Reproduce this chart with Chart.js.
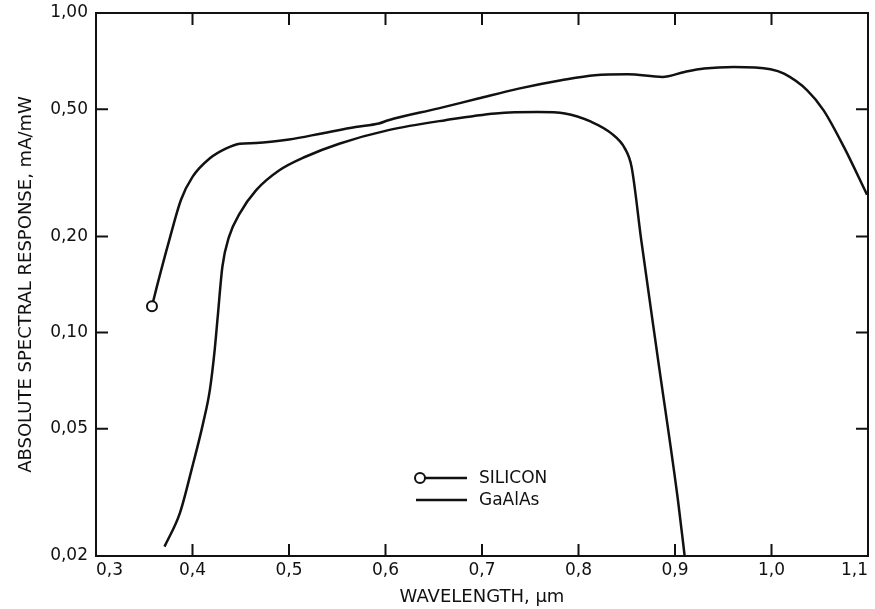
<!DOCTYPE html>
<html>
<head>
<meta charset="utf-8">
<script src="https://cdn.jsdelivr.net/npm/chart.js@4"></script>
<style>
  html, body { margin: 0; padding: 0; background: #fff; }
  canvas { display: block; }
</style>
</head>
<body>
<canvas id="spectralChart" width="875" height="609"></canvas>
<script>
// ---- data ----
const seriesNames = ['SILICON', 'GaAlAs'];

const siliconWavelength = [0.358, 0.363, 0.376, 0.388, 0.400, 0.418, 0.435, 0.449, 0.466, 0.500,
  0.534, 0.569, 0.593, 0.603, 0.655, 0.696, 0.738, 0.782, 0.817, 0.851, 0.887, 0.910, 0.930,
  0.961, 0.999, 1.013, 1.037, 1.054, 1.075, 1.099];
const siliconResponse = [0.121, 0.139, 0.195, 0.260, 0.307, 0.351, 0.377, 0.390, 0.392, 0.402,
  0.420, 0.440, 0.451, 0.462, 0.503, 0.540, 0.580, 0.616, 0.639, 0.643, 0.631, 0.654, 0.670,
  0.678, 0.667, 0.646, 0.573, 0.496, 0.381, 0.270];

const gaalasWavelength = [0.371, 0.387, 0.399, 0.411, 0.418, 0.423, 0.426, 0.431, 0.438, 0.449,
  0.466, 0.490, 0.517, 0.552, 0.603, 0.662, 0.714, 0.758, 0.786, 0.813, 0.834, 0.848, 0.855,
  0.865, 0.882, 0.903, 0.910];
const gaalasResponse = [0.0214, 0.0273, 0.0372, 0.0521, 0.0662, 0.0883, 0.111, 0.161, 0.200, 0.236,
  0.279, 0.322, 0.355, 0.390, 0.430, 0.462, 0.485, 0.490, 0.485, 0.457, 0.420, 0.377, 0.330,
  0.195, 0.0841, 0.030, 0.020];

const xTicks = [0.3, 0.4, 0.5, 0.6, 0.7, 0.8, 0.9, 1.0, 1.1];
const yTicks = [0.02, 0.05, 0.10, 0.20, 0.50, 1.00];

const INK = '#111';
const FONT = 'DejaVu Sans';

function toPoints(xs, ys){
  return xs.map((x, i) => ({x: x, y: ys[i]}));
}

// frame + inward ticks on all four sides, and the little legend
const framePlugin = {
  id: 'frame',
  afterDatasetsDraw(chart){
    const {ctx, chartArea: a, scales: {x, y}} = chart;
    const len = 12;
    ctx.save();
    ctx.strokeStyle = INK;
    ctx.lineWidth = 2;
    ctx.strokeRect(a.left, a.top, a.right - a.left, a.bottom - a.top);
    ctx.beginPath();
    xTicks.forEach(v => {
      const px = x.getPixelForValue(v);
      ctx.moveTo(px, a.bottom); ctx.lineTo(px, a.bottom - len);
      ctx.moveTo(px, a.top); ctx.lineTo(px, a.top + len);
    });
    yTicks.forEach(v => {
      const py = y.getPixelForValue(v);
      ctx.moveTo(a.left, py); ctx.lineTo(a.left + len, py);
      ctx.moveTo(a.right, py); ctx.lineTo(a.right - len, py);
    });
    ctx.stroke();

    // legend
    ctx.lineWidth = 2.5;
    ctx.font = '17px "' + FONT + '"';
    ctx.fillStyle = INK;
    ctx.textBaseline = 'middle';
    ctx.textAlign = 'left';

    ctx.beginPath();
    ctx.moveTo(425, 478); ctx.lineTo(467, 478);
    ctx.stroke();
    ctx.beginPath();
    ctx.arc(420, 478, 5, 0, Math.PI * 2);
    ctx.fillStyle = '#fff';
    ctx.fill();
    ctx.lineWidth = 2;
    ctx.stroke();
    ctx.fillStyle = INK;
    ctx.fillText(seriesNames[0], 479, 479);

    ctx.lineWidth = 2.5;
    ctx.beginPath();
    ctx.moveTo(416, 500); ctx.lineTo(467, 500);
    ctx.stroke();
    ctx.fillText(seriesNames[1], 479, 501);
    ctx.restore();
  }
};

new Chart(document.getElementById('spectralChart'), {
  type: 'line',
  data: {
    datasets: [
      {
        label: seriesNames[0],
        data: toPoints(siliconWavelength, siliconResponse),
        borderColor: INK,
        borderWidth: 2.5,
        cubicInterpolationMode: 'monotone',
        pointRadius: c => c.dataIndex === 0 ? 5 : 0,
        pointBackgroundColor: '#fff',
        pointBorderColor: INK,
        pointBorderWidth: 2,
        fill: false
      },
      {
        label: seriesNames[1],
        data: toPoints(gaalasWavelength, gaalasResponse),
        borderColor: INK,
        borderWidth: 2.5,
        cubicInterpolationMode: 'monotone',
        pointRadius: 0,
        fill: false
      }
    ]
  },
  options: {
    responsive: false,
    animation: false,
    layout: { padding: { left: 0, top: 13, right: -2, bottom: 0 } },
    plugins: {
      legend: { display: false },
      tooltip: { enabled: false }
    },
    scales: {
      x: {
        type: 'linear',
        min: 0.3,
        max: 1.1,
        grid: { display: false, drawTicks: false },
        border: { display: false },
        afterBuildTicks: s => { s.ticks = xTicks.map(v => ({value: v})); },
        afterFit: s => { s.height = 53; s.paddingLeft = 0; s.paddingRight = 0; },
        ticks: {
          align: 'inner',
          padding: 4,
          color: INK,
          font: { family: FONT, size: 17 },
          callback: v => v.toFixed(1).replace('.', ',')
        },
        title: {
          display: true,
          text: 'WAVELENGTH, μm',
          color: INK,
          font: { family: FONT, size: 18 },
          padding: { top: 0, bottom: 1 }
        }
      },
      y: {
        type: 'logarithmic',
        min: 0.02,
        max: 1.0,
        grid: { display: false, drawTicks: false },
        border: { display: false },
        afterBuildTicks: s => { s.ticks = yTicks.map(v => ({value: v})); },
        afterFit: s => { s.width = 96; s.paddingTop = 0; s.paddingBottom = 0; },
        ticks: {
          padding: 8,
          color: INK,
          font: { family: FONT, size: 17 },
          callback: v => Number(v).toFixed(2).replace('.', ',')
        },
        title: {
          display: true,
          text: 'ABSOLUTE SPECTRAL RESPONSE, mA/mW',
          color: INK,
          font: { family: FONT, size: 18 },
          padding: { top: 16, bottom: 0 }
        }
      }
    }
  },
  plugins: [framePlugin]
});
</script>
</body>
</html>
